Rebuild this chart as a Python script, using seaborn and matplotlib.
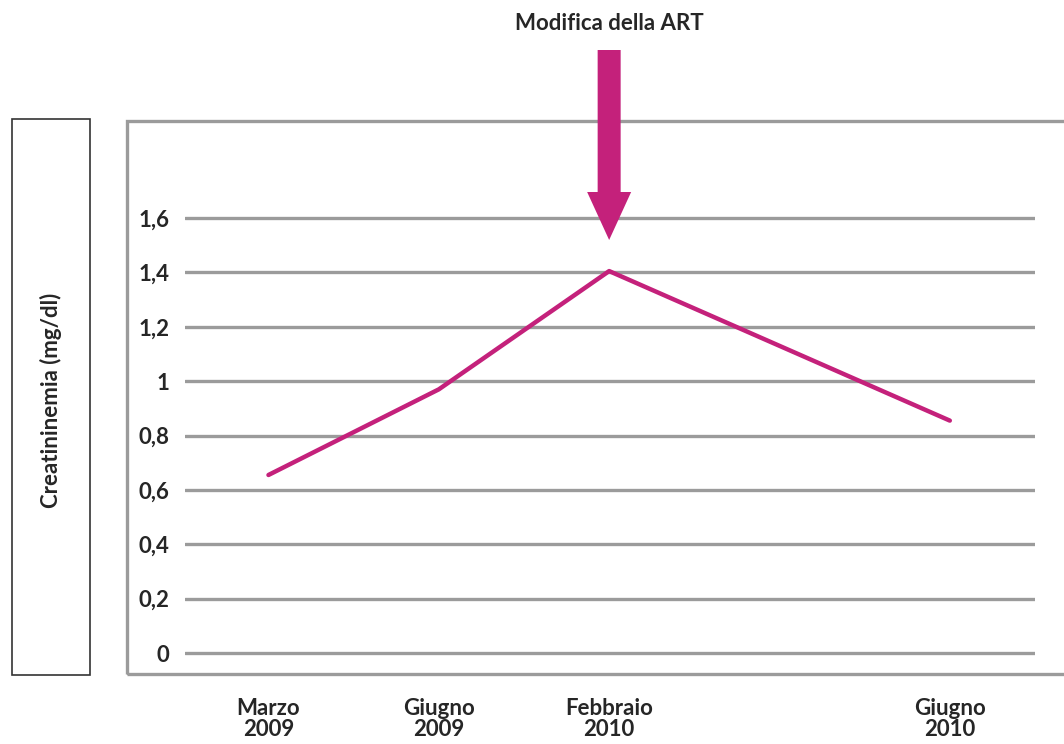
import matplotlib
matplotlib.use("Agg")
import matplotlib.pyplot as plt
from matplotlib.patches import Rectangle, FancyArrow
from matplotlib.transforms import IdentityTransform
import seaborn as sns
import pandas as pd

# Creatinine measurements over time
dates = ["Marzo\n2009", "Giugno\n2009", "Febbraio\n2010", "Giugno\n2010"]
slots = [0, 1, 2, 4]          # category slots (one empty slot before the last visit)
creatinine = [0.655, 0.97, 1.405, 0.855]
y_ticks = [0, 0.2, 0.4, 0.6, 0.8, 1.0, 1.2, 1.4, 1.6]
y_tick_labels = ["0", "0,2", "0,4", "0,6", "0,8", "1", "1,2", "1,4", "1,6"]
event_slot = 2
event_label = "Modifica della ART"

sns.set_theme(style="white")
plt.rcParams["font.family"] = ["Lato", "DejaVu Sans"]
plt.rcParams["font.weight"] = "bold"

MAGENTA = "#C4217B"
GRID = "#9B9B9B"
FS = 16

W, H = 1064, 744
fig = plt.figure(figsize=(W / 100, H / 100), dpi=100)

def px(x0, y0, x1, y1):
    """Rectangle in pixel coordinates (top-left origin) -> figure fraction."""
    return [x0 / W, 1 - y1 / H, (x1 - x0) / W, (y1 - y0) / H]

ax = fig.add_axes(px(185, 121, 1035, 674))
df = pd.DataFrame({"slot": slots, "value": creatinine})
sns.lineplot(data=df, x="slot", y="value", ax=ax, color=MAGENTA, linewidth=3.2)

ax.set_xlim(-0.49, 4.5)
ax.set_ylim(-0.077, 1.957)
for s in ax.spines.values():
    s.set_visible(False)
ax.set_yticks(y_ticks)
ax.set_yticklabels(y_tick_labels, fontsize=FS, fontweight="bold")
ax.yaxis.grid(True, color=GRID, linewidth=2.4)
ax.set_axisbelow(True)
ax.tick_params(axis="y", length=0, pad=11)
ax.set_xticks(slots)
ax.set_xticklabels(dates, fontsize=FS, fontweight="bold", linespacing=1.05)
ax.tick_params(axis="x", length=0, pad=17)
ax.set_xlabel("")
ax.set_ylabel("")

# outer gray frame of the plot area
fig.add_artist(Rectangle((127 / W, 1 - 674 / H), (1070 - 127) / W, (674 - 121) / H,
                         transform=fig.transFigure, fill=False,
                         edgecolor=GRID, linewidth=2.4, clip_on=False))

# boxed y-axis title
fig.add_artist(Rectangle((12 / W, 1 - 675 / H), (90 - 12) / W, (675 - 119) / H,
                         transform=fig.transFigure, fill=False,
                         edgecolor="#333333", linewidth=1.2))
fig.text(51 / W, 1 - 400 / H, "Creatininemia (mg/dl)", rotation=90,
         ha="center", va="center", fontsize=FS, fontweight="bold")

# event arrow and caption
fig.canvas.draw()
x_evt = ax.transData.transform((event_slot, 0))[0]
top_y = H - 50
tip_y = H - 240
fig.add_artist(FancyArrow(x_evt, top_y, 0, tip_y - top_y, width=23, head_width=44,
                          head_length=48, length_includes_head=True,
                          color=MAGENTA, linewidth=0, transform=IdentityTransform()))
fig.text(x_evt / W, 1 - 23 / H, event_label, ha="center", va="center",
         fontsize=FS, fontweight="bold")

fig.savefig("out.png", dpi=100)
